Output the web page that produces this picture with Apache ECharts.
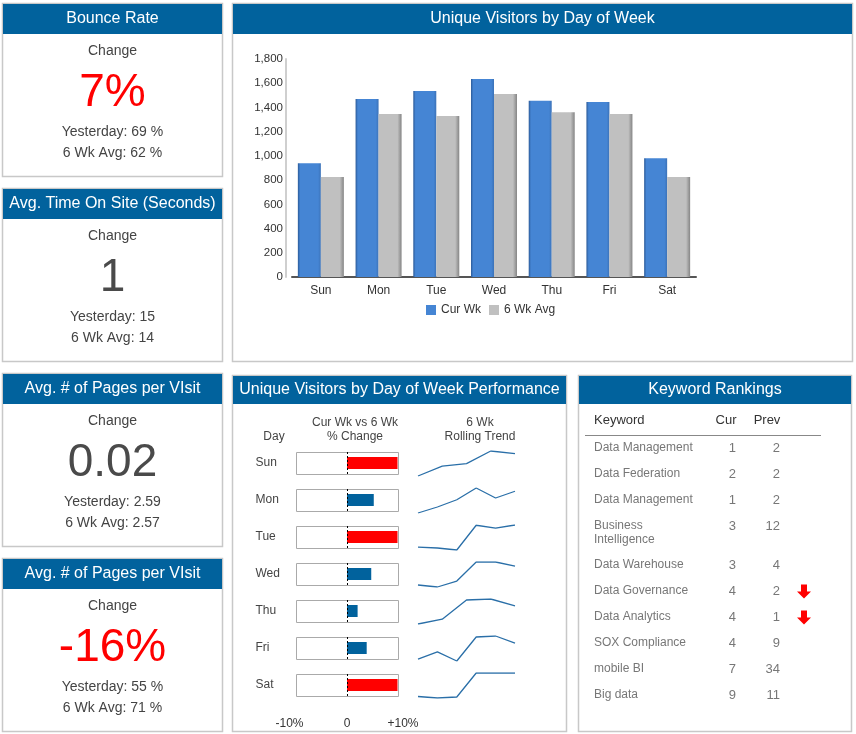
<!DOCTYPE html>
<html><head><meta charset="utf-8">
<script src="https://cdn.jsdelivr.net/npm/echarts@6/dist/echarts.min.js"></script>
<style>html,body{margin:0;padding:0;background:#fff}#c{width:856px;height:734px}</style>
</head><body><div id="c"></div>
<script>
// ---------- data ----------
const days = ['Sun','Mon','Tue','Wed','Thu','Fri','Sat'];
const curWk = [940,1470,1535,1635,1455,1445,980];
const avg6Wk = [825,1345,1330,1510,1360,1345,825];
const pctChange = [10,5.3,10,4.8,2.1,3.9,10];
const trendSun = [760,800,810,861,850];
const trendMon = [1250,1274,1303,1350,1310,1337];
const trendTue = [1242,1238,1230,1330,1318,1331];
const trendWed = [1418,1410,1434,1511,1511,1494];
const trendThu = [1260,1279,1355,1359,1332];
const trendFri = [1257,1286,1250,1345,1349,1321];
const trendSat = [726,720,724,821,821,821];
const trends = [trendSun,trendMon,trendTue,trendWed,trendThu,trendFri,trendSat];
const pctTicks = ['-10%','0','+10%'];

const kpiTitles = ['Bounce Rate','Avg. Time On Site (Seconds)','Avg. # of Pages per VIsit','Avg. # of Pages per VIsit'];
const kpiChange = ['7%','1','0.02','-16%'];
const kpiYesterday = ['69 %','15','2.59','55 %'];
const kpiAvg = ['62 %','14','2.57','71 %'];
const kpiBad = [true,false,false,true];

const keywords = ['Data Management','Data Federation','Data Management','Business\nIntelligence','Data Warehouse','Data Governance','Data Analytics','SOX Compliance','mobile BI','Big data'];
const curRank = [1,2,1,3,3,4,4,4,7,9];
const prevRank = [2,2,2,12,4,2,1,9,34,11];

// ---------- style ----------
const FONT = '"Liberation Sans", Arial, sans-serif';
const HEAD = '#01629D';
const BORDER = '#c8c8c8';
const TXT = '#444';
const g = [];
function panel(x,y,w,h,hh,title){
  g.push({type:'rect',shape:{x:x+0.5,y:y+0.5,width:w,height:h},style:{fill:'#fff',stroke:BORDER,lineWidth:1.5},z:0});
  g.push({type:'rect',shape:{x:x+1,y:y+1,width:w-1,height:hh},style:{fill:HEAD},z:1});
  g.push({type:'text',x:x+w/2+0.5,y:y+1+hh/2,style:{text:title,fill:'#fff',font:'16px '+FONT,align:'center',verticalAlign:'middle'},z:2});
}
function txt(x,y,s,size,color,align,va,extra){
  g.push({type:'text',x:x,y:y,style:Object.assign({text:s,fill:color,font:size+'px '+FONT,align:align||'center',verticalAlign:va||'middle'},extra||{}),z:5});
}
// KPI panels
const kpiTops = [3,188,373,558];
kpiTops.forEach((t,i)=>{
  panel(2,t,220,173,30,kpiTitles[i]);
  const cx = 112.5;
  txt(cx,t+48,'Change',14,TXT);
  txt(cx,t+90,kpiChange[i],46,kpiBad[i]?'#ff0000':'#4a4a4a');
  txt(cx,t+129,'Yesterday: '+kpiYesterday[i],14,TXT);
  txt(cx,t+150,'6 Wk Avg: '+kpiAvg[i],14,TXT);
});
// chart panels
panel(232,3,620,358,30,'Unique Visitors by Day of Week');
panel(232,375,334,356,28,'Unique Visitors by Day of Week Performance');
panel(578,375,273,356,28,'Keyword Rankings');

// Performance headers
txt(274,437,'Day',12,TXT);
txt(355,423,'Cur Wk vs 6 Wk',12,TXT);
txt(355,437,'% Change',12,TXT);
txt(480,423,'6 Wk',12,TXT);
txt(480,437,'Rolling Trend',12,TXT);

// Keyword table
txt(594,420,'Keyword',13,'#333','left');
txt(726,420,'Cur',13,'#333');
txt(767,420,'Prev',13,'#333');
g.push({type:'line',shape:{x1:585,y1:435.5,x2:821,y2:435.5},style:{stroke:'#888',lineWidth:1.2},z:5});
keywords.forEach((k,i)=>{
  const y = 447.5 + 26*i + (i>3?13:0);
  if(k.indexOf('\n')>=0) txt(594,y-7,k,12,'#777','left','top',{lineHeight:14});
  else txt(594,y,k,12,'#777','left');
  txt(736,y+1,String(curRank[i]),13,'#777','right');
  txt(780,y+1,String(prevRank[i]),13,'#777','right');
  if(curRank[i]>prevRank[i]){
    const cx=804, cy=y+1;
    g.push({type:'polygon',shape:{points:[[cx-3,cy-7],[cx+3,cy-7],[cx+3,cy],[cx+7,cy],[cx,cy+7],[cx-7,cy],[cx-3,cy]]},style:{fill:'#ff0000'},z:5});
  }
});

// ---------- chart ----------
const chart = echarts.init(document.getElementById('c'),null,{renderer:'canvas'});
const blueGrad = new echarts.graphic.LinearGradient(0,0,1,0,[
  {offset:0,color:'#2b5a98'},{offset:0.1,color:'#4585d4'},{offset:0.88,color:'#4585d4'},{offset:1,color:'#3b72b8'}]);
const grayGrad = new echarts.graphic.LinearGradient(0,0,1,0,[
  {offset:0,color:'#c0c0c0'},{offset:0.82,color:'#c0c0c0'},{offset:1,color:'#858585'}]);

const grids = [
  {left:292,top:59,width:404,height:218},
  {left:296.5,top:444.5,width:101,height:259}
];
const xAxes = [
  {gridIndex:0,type:'category',data:days,axisTick:{show:false},
    axisLine:{lineStyle:{color:'#555',width:2}},
    axisLabel:{color:'#333',fontSize:12,fontFamily:FONT,margin:8}},
  {gridIndex:1,type:'value',min:-10,max:10,interval:10,splitLine:{show:false},axisLine:{show:false},axisTick:{show:false},
    axisLabel:{color:'#333',fontSize:12,fontFamily:FONT,margin:14,
      formatter:(v)=>{const i=(v+10)/10; return i===0?'{l|'+pctTicks[0]+'}':(i===2?'{r|'+pctTicks[2]+'}':pctTicks[i]);},
      rich:{l:{padding:[0,14,0,0],fontSize:12,color:'#333',fontFamily:FONT},r:{padding:[0,0,0,11],fontSize:12,color:'#333',fontFamily:FONT}}}}
];
const yAxes = [
  {gridIndex:0,type:'value',min:0,max:1800,interval:200,offset:6,splitLine:{show:false},axisTick:{show:false},
    axisLine:{show:true,lineStyle:{color:'#cfcfcf',width:2}},
    axisLabel:{color:'#333',fontSize:11.5,fontFamily:FONT,margin:3,formatter:(v)=>v.toLocaleString('en-US')}},
  {gridIndex:1,type:'category',data:days,inverse:true,axisLine:{show:false},axisTick:{show:false},
    axisLabel:{color:TXT,fontSize:12,fontFamily:FONT,align:'left',margin:41}}
];
const series = [
  {name:'Cur Wk',type:'bar',xAxisIndex:0,yAxisIndex:0,data:curWk,barWidth:23,barGap:'0%',itemStyle:{color:blueGrad}},
  {name:'6 Wk Avg',type:'bar',xAxisIndex:0,yAxisIndex:0,data:avg6Wk,barWidth:23,barGap:'0%',itemStyle:{color:grayGrad}},
  {type:'custom',xAxisIndex:1,yAxisIndex:1,z:1,data:days.map((d,i)=>[0,i]),encode:{x:0,y:1},silent:true,
    renderItem:(p,api)=>{
      const l=api.coord([-10,p.dataIndex]), r=api.coord([10,p.dataIndex]);
      return {type:'rect',shape:{x:Math.round(l[0])-0.5,y:Math.round(l[1]-11)+0.5,width:Math.round(r[0]-l[0])+1,height:22},style:{fill:'#fff',stroke:'#aaa',lineWidth:1}};
    }},
  {type:'bar',xAxisIndex:1,yAxisIndex:1,z:2,barWidth:12,silent:true,
    data:pctChange.map(v=>({value:v,itemStyle:{color:v>=10?'#ff0000':'#01629D'}}))},
  {type:'custom',xAxisIndex:1,yAxisIndex:1,z:3,data:days.map((d,i)=>[0,i]),encode:{x:0,y:1},silent:true,
    renderItem:(p,api)=>{
      const c=api.coord([0,p.dataIndex]);
      const x=Math.round(c[0])+0.5;
      return {type:'line',shape:{x1:x,y1:c[1]-11,x2:x,y2:c[1]+11},style:{stroke:'#000',lineWidth:1,lineDash:[2,2]}};
    }}
];
trends.forEach((t,i)=>{
  const gi = grids.length;
  grids.push({left:418,width:97,top:463+37*i-12,height:25});
  xAxes.push({gridIndex:gi,type:'category',boundaryGap:false,data:t.map((v,j)=>'W'+(j+1)),show:false});
  yAxes.push({gridIndex:gi,type:'value',min:'dataMin',max:'dataMax',show:false,scale:true});
  series.push({type:'line',xAxisIndex:gi,yAxisIndex:gi,data:t,symbol:'none',silent:true,
    lineStyle:{color:'#2a6fa8',width:1.3}});
});

chart.setOption({
  animation:false,
  backgroundColor:'#fff',
  textStyle:{fontFamily:FONT},
  graphic:g,
  legend:{left:421,top:299,itemWidth:10,itemHeight:10,itemGap:8,icon:'rect',
    textStyle:{color:'#333',fontSize:12,fontFamily:FONT},
    data:[{name:'Cur Wk',itemStyle:{color:'#4585d4'}},{name:'6 Wk Avg',itemStyle:{color:'#c0c0c0'}}]},
  grid:grids, xAxis:xAxes, yAxis:yAxes, series:series
});
</script></body></html>
